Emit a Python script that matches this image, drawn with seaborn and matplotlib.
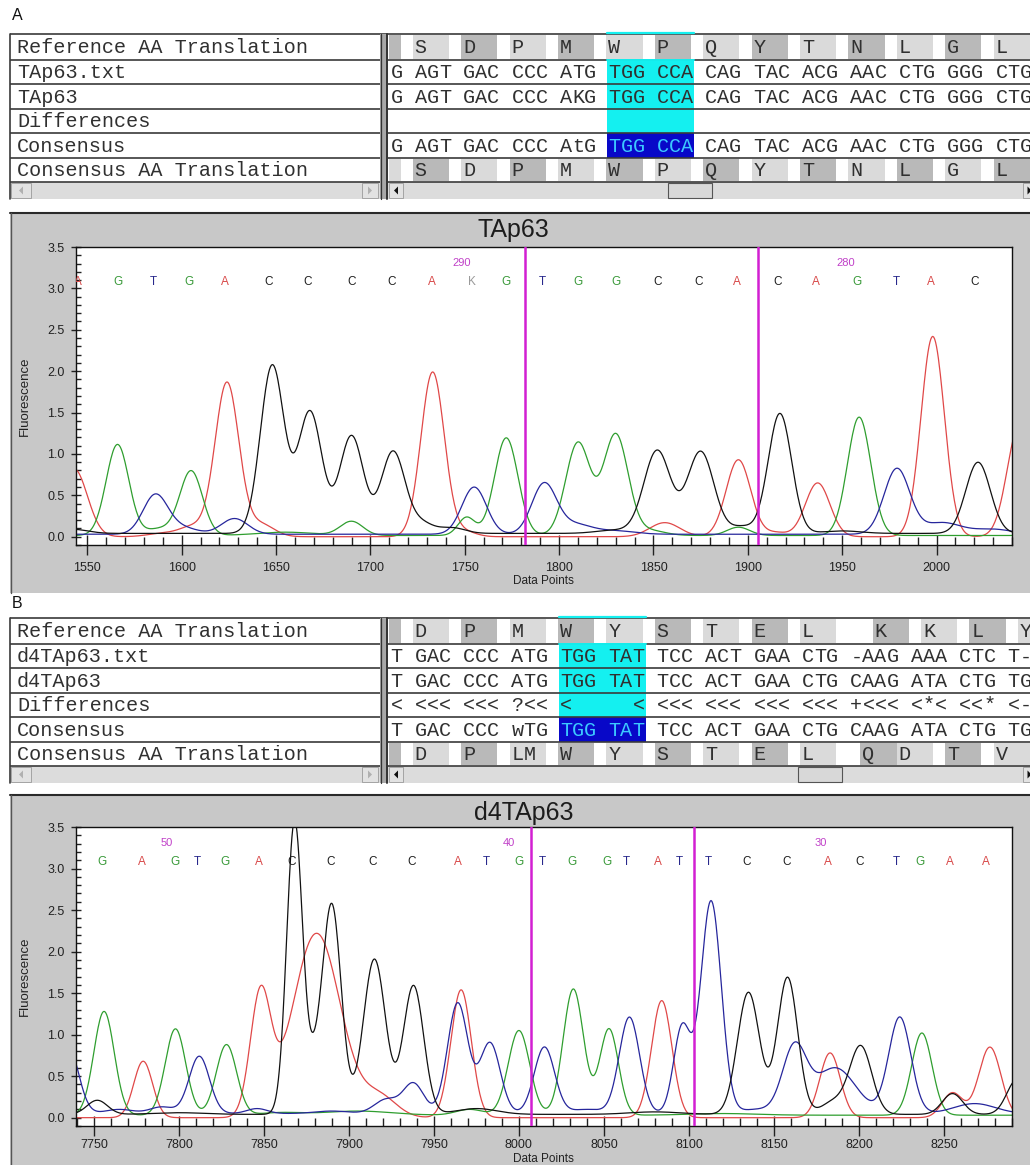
import numpy as np
import matplotlib
matplotlib.use('Agg')
import matplotlib.pyplot as plt
import seaborn as sns
from matplotlib.patches import Rectangle, Polygon
from matplotlib.ticker import MultipleLocator, FormatStrFormatter

sns.set_theme(style='white')
plt.rcParams['font.family'] = ['Liberation Sans', 'DejaVu Sans']

# ------------------------------------------------------------------ DATA
ROW_LABELS_A = ['Reference AA Translation', 'TAp63.txt', 'TAp63', 'Differences',
                'Consensus', 'Consensus AA Translation']
ROW_LABELS_B = ['Reference AA Translation', 'd4TAp63.txt', 'd4TAp63', 'Differences',
                'Consensus', 'Consensus AA Translation']

A_REF_AA = ['S', 'D', 'P', 'M', 'W', 'P', 'Q', 'Y', 'T', 'N', 'L', 'G', 'L']
A_TXT = "G AGT GAC CCC ATG TGG CCA CAG TAC ACG AAC CTG GGG CTG"
A_SEQ = "G AGT GAC CCC AKG TGG CCA CAG TAC ACG AAC CTG GGG CTG"
A_DIFF = ""
A_CONS = "G AGT GAC CCC AtG TGG CCA CAG TAC ACG AAC CTG GGG CTG"
A_CONS_AA = ['S', 'D', 'P', 'M', 'W', 'P', 'Q', 'Y', 'T', 'N', 'L', 'G', 'L']

B_REF_AA = ['D', 'P', 'M', 'W', 'Y', 'S', 'T', 'E', 'L', 'K', 'K', 'L', 'Y']
B_TXT = "T GAC CCC ATG TGG TAT TCC ACT GAA CTG -AAG AAA CTC T-"
B_SEQ = "T GAC CCC ATG TGG TAT TCC ACT GAA CTG CAAG ATA CTG TG"
B_DIFF = "< <<< <<< ?<< <     < <<< <<< <<< <<< +<<< <*< <<* <-"
B_CONS = "T GAC CCC wTG TGG TAT TCC ACT GAA CTG CAAG ATA CTG TG"
B_CONS_AA = ['D', 'P', 'LM', 'W', 'Y', 'S', 'T', 'E', 'L', 'Q', 'D', 'T', 'V']

# chromatogram A (TAp63): base calls, positions, peaks (centre, height, sigma)
A_CALLS = list("AGTGACCCCAKGTGGCCACAGTAC")
A_CALL_X = [1545, 1566, 1585, 1604, 1623, 1646, 1667, 1690, 1711, 1732.5, 1754, 1772,
            1791, 1810, 1830, 1852, 1874, 1894, 1916, 1936, 1958, 1978.6, 1997, 2020]
A_POS_LABELS = ['290', '280']
A_POS_X = [1748.5, 1952]
A_MARKS = [1782, 1905.5]
A_PEAKS_G = [(1566, 1.10, 6.0), (1588, 0.08, 7), (1605, 0.78, 6.0), (1655, 0.04, 15),
             (1690, 0.17, 6.0), (1751, 0.22, 4.5), (1772, 1.18, 6.2), (1810, 1.12, 6.5),
             (1830, 1.22, 6.5), (1848, 0.06, 8), (1895, 0.10, 6), (1959, 1.43, 6.2)]
A_PEAKS_A = [(1543, 0.82, 7.0), (1590, 0.04, 8), (1606, 0.12, 7), (1624, 1.86, 6.3),
             (1642, 0.15, 7), (1733, 1.99, 6.2), (1750, 0.06, 6), (1856, 0.17, 8),
             (1895, 0.93, 6.5), (1915, 0.05, 6), (1937, 0.65, 6.5), (1998, 2.42, 6.2),
             (2044, 1.35, 6.5)]
A_PEAKS_T = [(1586, 0.47, 6.5), (1600, 0.08, 8), (1628, 0.19, 7), (1755, 0.57, 6.5),
             (1792, 0.60, 6.5), (1808, 0.12, 9), (1830, 0.04, 10), (1979, 0.79, 6.8),
             (2003, 0.14, 10), (2030, 0.06, 10)]
A_PEAKS_C = [(1542, 0.05, 8), (1648, 2.03, 6.3), (1668, 1.47, 6.3), (1690, 1.18, 6.3),
             (1712, 0.99, 6.3), (1727, 0.12, 6), (1743, 0.07, 7), (1830, 0.04, 10),
             (1852, 1.0, 7.0), (1875, 0.99, 7.0), (1897, 0.08, 6), (1917, 1.45, 6.2),
             (1950, 0.03, 10), (2022, 0.86, 6.5)]
A_BASELINE = {'G': 0.015, 'A': 0.0, 'T': 0.03, 'C': 0.04}

# chromatogram B (d4TAp63)
B_CALLS = list("GAGTGACCCCATGTGGTATTCCACTGAA")
B_CALL_X = [7755, 7778, 7798, 7811, 7827, 7847, 7866.6, 7889, 7914, 7937, 7964, 7981,
            8000, 8014, 8031.5, 8052, 8063, 8082, 8094.5, 8111.6, 8134, 8157.5, 8182,
            8200.5, 8222, 8236, 8253.5, 8274.7]
B_POS_LABELS = ['50', '40', '30']
B_POS_X = [7793, 7994, 8177.6]
B_MARKS = [8007, 8103]
B_PEAKS_G = [(7756, 1.25, 6.0), (7798, 1.04, 6.0), (7828, 0.85, 6.0), (7860, 0.03, 12),
             (7905, 0.05, 20), (7971, 0.07, 8), (8000, 1.02, 6.3), (8032, 1.52, 6.0),
             (8053, 1.04, 5.5), (8120, 0.02, 20), (8237, 0.99, 6.0)]
B_PEAKS_A = [(7779, 0.68, 5.5), (7848, 1.45, 6.0), (7881, 2.22, 14.0), (7918, 0.25, 10),
             (7966, 1.54, 6.0), (8084, 1.41, 6.0), (8183, 0.78, 6.0), (8255, 0.30, 6.0),
             (8277, 0.85, 6.5)]
B_PEAKS_T = [(7735, 0.8, 6.0), (7765, 0.05, 8), (7790, 0.08, 7), (7812, 0.69, 6.0),
             (7846, 0.06, 6), (7890, 0.03, 10), (7922, 0.17, 7), (7938, 0.36, 6.0),
             (7964, 1.33, 6.0), (7983, 0.85, 6.0), (8015, 0.8, 6.0), (8040, 0.05, 10),
             (8065, 1.16, 6.0), (8096, 1.04, 5.0), (8113, 2.56, 6.0), (8140, 0.05, 10),
             (8162, 0.78, 7.0), (8186, 0.55, 12), (8224, 1.16, 6.5), (8268, 0.12, 12)]
B_PEAKS_C = [(7752, 0.17, 6.0), (7800, 0.02, 15), (7868, 3.5, 4.6), (7879, 0.45, 5.0),
             (7890, 2.5, 5.5), (7915, 1.87, 6.5), (7938, 1.55, 6.0), (7975, 0.07, 12),
             (8080, 0.03, 15), (8135, 1.47, 6.5), (8158, 1.65, 6.0), (8185, 0.15, 7),
             (8201, 0.82, 6.5), (8255, 0.25, 6.0), (8293, 0.42, 6.0)]
B_BASELINE = {'G': 0.03, 'A': 0.0, 'T': 0.05, 'C': 0.04}

# ------------------------------------------------------------------ STYLE / LAYOUT
W, H = 1030, 1165
TRACE_COL = {'A': '#e04848', 'G': '#2f9e2f', 'T': '#26269c', 'C': '#111111'}
CALL_COL = {'A': '#d84848', 'G': '#3a9a3a', 'T': '#28288c', 'C': '#202020', 'K': '#9a9a9a'}
MAGENTA = '#d21fd2'
X0, P = 390.5, 12.1
MONO = ['Liberation Mono', 'DejaVu Sans Mono']
FS = 14.5
ROW_OFF = [0, 25.5, 50, 74.5, 99, 124, 148]
LIGHT, DARK = '#dadada', '#b9b9b9'
CYAN, NAVY, CTXT = '#14f0f0', '#0808c8', '#3cc8ff'
LINE = '#3a3a3a'
PANEL = '#c8c8c8'

fig = plt.figure(figsize=(W / 100, H / 100), dpi=100)
fig.patch.set_facecolor('white')
bg = fig.add_axes([0, 0, 1, 1], zorder=0)
bg.set_xlim(0, W)
bg.set_ylim(H, 0)
bg.axis('off')


def colx(c):
    return X0 + c * P


def aa_cols(seq_str, aa):
    cols, c = [], 0
    for t in seq_str.split(' '):
        cols.append(c)
        c += len(t) + 1
    return cols[1:1 + len(aa)]


def draw_aa_row(y0, y1, aa, cols, first_light):
    bg.add_patch(Rectangle((X0 - 2, y0 + 1), P, y1 - y0 - 2,
                           fc=DARK if first_light else LIGHT, ec='none', zorder=1))
    for i, (a, c) in enumerate(zip(aa, cols)):
        light = (i % 2 == 0) == first_light
        bg.add_patch(Rectangle((colx(c) - 2, y0 + 1), 3 * P, y1 - y0 - 2,
                               fc=LIGHT if light else DARK, ec='none', zorder=1))
        for k, ch in enumerate(a):
            bg.text(colx(c + k) + P / 2, (y0 + y1) / 2 + 1, ch, family=MONO, size=FS,
                    ha='center', va='center', color='#303030', zorder=4)


def draw_seq_row(y0, y1, s, hl=None, hl_col=None):
    for k, ch in enumerate(s):
        if ch == ' ':
            continue
        x = colx(k) + P / 2
        if x > W + 6:
            break
        col = '#303030'
        if hl is not None and hl[0] <= k <= hl[1]:
            col = hl_col
        bg.text(x, (y0 + y1) / 2 + 1, ch, family=MONO, size=FS, ha='center', va='center',
                color=col, zorder=4)


def scroll_button(x0, x1, y0, y1, direction, arrow_col):
    bg.add_patch(Rectangle((x0, y0), x1 - x0, y1 - y0, fc='#e2e2e2', ec='#9a9a9a', lw=0.6, zorder=3))
    cx, cy = (x0 + x1) / 2, (y0 + y1) / 2
    if direction == 'left':
        pts = [(cx + 2, cy - 4), (cx + 2, cy + 4), (cx - 2, cy)]
    else:
        pts = [(cx - 2, cy - 4), (cx - 2, cy + 4), (cx + 2, cy)]
    bg.add_patch(Polygon(pts, closed=True, fc=arrow_col, ec='none', zorder=4))


def draw_table(T, labels, ref_aa, s_txt, s_seq, s_diff, s_cons, cons_aa,
               ref_cols, cons_cols, hl, ref_first_light, cons_first_light, thumb_x):
    rows = [T + o for o in ROW_OFF]
    hx0, hx1 = colx(hl[0]) - 1, colx(hl[1] + 1) + 1
    for r in (1, 2, 3):
        bg.add_patch(Rectangle((hx0, rows[r]), hx1 - hx0, rows[r + 1] - rows[r],
                               fc=CYAN, ec='none', zorder=1))
    bg.add_patch(Rectangle((hx0, rows[4]), hx1 - hx0, rows[5] - rows[4], fc=NAVY, ec='none', zorder=1))
    draw_aa_row(rows[0], rows[1], ref_aa, ref_cols, ref_first_light)
    draw_aa_row(rows[5], rows[6], cons_aa, cons_cols, cons_first_light)
    draw_seq_row(rows[1], rows[2], s_txt)
    draw_seq_row(rows[2], rows[3], s_seq)
    draw_seq_row(rows[3], rows[4], s_diff)
    draw_seq_row(rows[4], rows[5], s_cons, hl=hl, hl_col=CTXT)
    for i, lab in enumerate(labels):
        bg.text(17, (rows[i] + rows[i + 1]) / 2 + 1, lab, family=MONO, size=FS,
                ha='left', va='center', color='#303030', zorder=4)
    for y in rows:
        bg.plot([10, W], [y, y], color=LINE, lw=1.2, zorder=5, solid_capstyle='butt')
    bg.plot([hx0, hx1], [rows[0] - 1.5] * 2, color=CYAN, lw=1.6, zorder=6)
    bg.plot([hx0, hx1], [rows[1] + 0.2] * 2, color=CYAN, lw=1.4, zorder=6)
    sy0, sy1 = rows[6], rows[6] + 17
    bg.add_patch(Rectangle((10, sy0), W - 10, sy1 - sy0, fc='#dcdcdc', ec='none', zorder=1,
                           hatch='....', lw=0))
    scroll_button(11, 31, sy0 + 1, sy1 - 1, 'left', '#b0b0b0')
    scroll_button(362, 378, sy0 + 1, sy1 - 1, 'right', '#b0b0b0')
    scroll_button(389, 403, sy0 + 1, sy1 - 1, 'left', '#111111')
    bg.add_patch(Rectangle((thumb_x, sy0 + 1), 44, sy1 - sy0 - 2, fc='#d8d8d8',
                           ec='#555555', lw=0.8, zorder=3))
    scroll_button(1023, 1036, sy0 + 1, sy1 - 1, 'right', '#111111')
    bg.plot([10, 10], [rows[0], sy1], color=LINE, lw=1.2, zorder=5)
    bg.add_patch(Rectangle((380, rows[0]), 8, sy1 - rows[0], fc='#a8a8a8', ec='none', zorder=5))
    bg.plot([380.5, 380.5], [rows[0], sy1], color='#333333', lw=0.9, zorder=6)
    bg.plot([386.5, 386.5], [rows[0], sy1], color='#333333', lw=1.4, zorder=6)


def trace(xs, peaks, base):
    y = np.full_like(xs, base, dtype=float)
    for p, h, s in peaks:
        y += h * np.exp(-0.5 * ((xs - p) / s) ** 2)
    return y


def draw_chrom(panel_top, ax_box, xlim, xticks, peaks, baseline, calls, call_x,
               pos_lab, pos_x, marks, title, title_xy, panel_bottom, xlabel_y, tick_pad):
    bg.add_patch(Rectangle((10, panel_top), W - 10, panel_bottom - panel_top, fc=PANEL, ec='none', zorder=1))
    bg.plot([10, W], [panel_top, panel_top], color='#2a2a2a', lw=1.5, zorder=2)
    bg.plot([10.5, 10.5], [panel_top, panel_bottom], color='#555555', lw=1.0, zorder=2)
    bg.text(title_xy[0], title_xy[1], title, size=18, ha='center', va='center', color='#1c1c1c', zorder=3)
    x0, y0, x1, y1 = ax_box
    ax = fig.add_axes([x0 / W, 1 - y1 / H, (x1 - x0) / W, (y1 - y0) / H], zorder=2)
    ax.set_facecolor('white')
    xs = np.arange(xlim[0] - 8, xlim[1] + 8, 0.5)
    for ch in ['A', 'G', 'T', 'C']:
        ys = trace(xs, peaks[ch], baseline[ch])
        sns.lineplot(x=xs, y=ys, ax=ax, color=TRACE_COL[ch], linewidth=0.9,
                     estimator=None, sort=False, legend=False)
    for m in marks:
        ax.axvline(m, color=MAGENTA, lw=1.8, zorder=5)
    for b, bx in zip(calls, call_x):
        ax.text(bx, 3.08, b, color=CALL_COL[b], size=8.5, ha='center', va='center',
                clip_on=True, zorder=6)
    for lab, px in zip(pos_lab, pos_x):
        ax.text(px, 3.31, lab, color='#c040c8', size=8, ha='center', va='center', zorder=6)
    ax.set_xlim(*xlim)
    ax.set_ylim(-0.1, 3.5)
    ax.set_xticks(xticks)
    ax.xaxis.set_minor_locator(MultipleLocator(10))
    ax.yaxis.set_major_locator(MultipleLocator(0.5))
    ax.yaxis.set_minor_locator(MultipleLocator(0.1))
    ax.yaxis.set_major_formatter(FormatStrFormatter('%.1f'))
    ax.tick_params(axis='x', which='major', direction='inout', length=14, width=1.0,
                   labelsize=9, pad=tick_pad, colors='#222222', bottom=True)
    ax.tick_params(axis='x', which='minor', direction='in', length=5.5, width=1.0,
                   colors='#222222', bottom=True)
    ax.tick_params(axis='y', which='major', direction='inout', length=6.5, width=1.0,
                   labelsize=9, pad=5, colors='#222222', left=True)
    ax.tick_params(axis='y', which='minor', direction='in', length=3.5, width=1.0,
                   colors='#222222', left=True)
    ax.set_xlabel('')
    ax.set_ylabel('')
    for sp in ax.spines.values():
        sp.set_color('#111111')
        sp.set_linewidth(1.0)
        sp.set_visible(True)
    ax.grid(False)
    yc = (y0 + y1) / 2
    bg.text(25, yc, 'Fluorescence', rotation=90, size=9.5, ha='center', va='center',
            color='#222222', zorder=3)
    bg.text(543, xlabel_y, 'Data Points', size=8.5, ha='center', va='center', color='#222222', zorder=3)
    return ax


bg.text(12, 16, 'A', size=11.5, ha='left', va='center', color='#111111')
bg.text(12, 604, 'B', size=11.5, ha='left', va='center', color='#111111')

A_REF_COLS = aa_cols(A_TXT, A_REF_AA)
A_CONS_COLS = aa_cols(A_CONS, A_CONS_AA)
draw_table(34, ROW_LABELS_A, A_REF_AA, A_TXT, A_SEQ, A_DIFF, A_CONS, A_CONS_AA,
           A_REF_COLS, A_CONS_COLS, (18, 24), True, False, 668)

B_REF_COLS = [2, 6, 10, 14, 18, 22, 26, 30, 34, 40, 44, 48, 52]
B_CONS_COLS = [2, 6, 10, 14, 18, 22, 26, 30, 34, 39, 42, 46, 50]
draw_table(618, ROW_LABELS_B, B_REF_AA, B_TXT, B_SEQ, B_DIFF, B_CONS, B_CONS_AA,
           B_REF_COLS, B_CONS_COLS, (14, 20), True, True, 798)

draw_chrom(213, (76, 247, 1012, 545), (1544, 2040), list(range(1550, 2001, 50)),
           {'G': A_PEAKS_G, 'A': A_PEAKS_A, 'T': A_PEAKS_T, 'C': A_PEAKS_C}, A_BASELINE,
           A_CALLS, A_CALL_X, A_POS_LABELS, A_POS_X, A_MARKS, 'TAp63', (513, 230), 593, 581, 5)
draw_chrom(795, (76, 827, 1012, 1126), (7739.5, 8290), list(range(7750, 8251, 50)),
           {'G': B_PEAKS_G, 'A': B_PEAKS_A, 'T': B_PEAKS_T, 'C': B_PEAKS_C}, B_BASELINE,
           B_CALLS, B_CALL_X, B_POS_LABELS, B_POS_X, B_MARKS, 'd4TAp63', (524, 813), H, 1159, 2.5)

fig.savefig('out.png', dpi=100, facecolor='white')
